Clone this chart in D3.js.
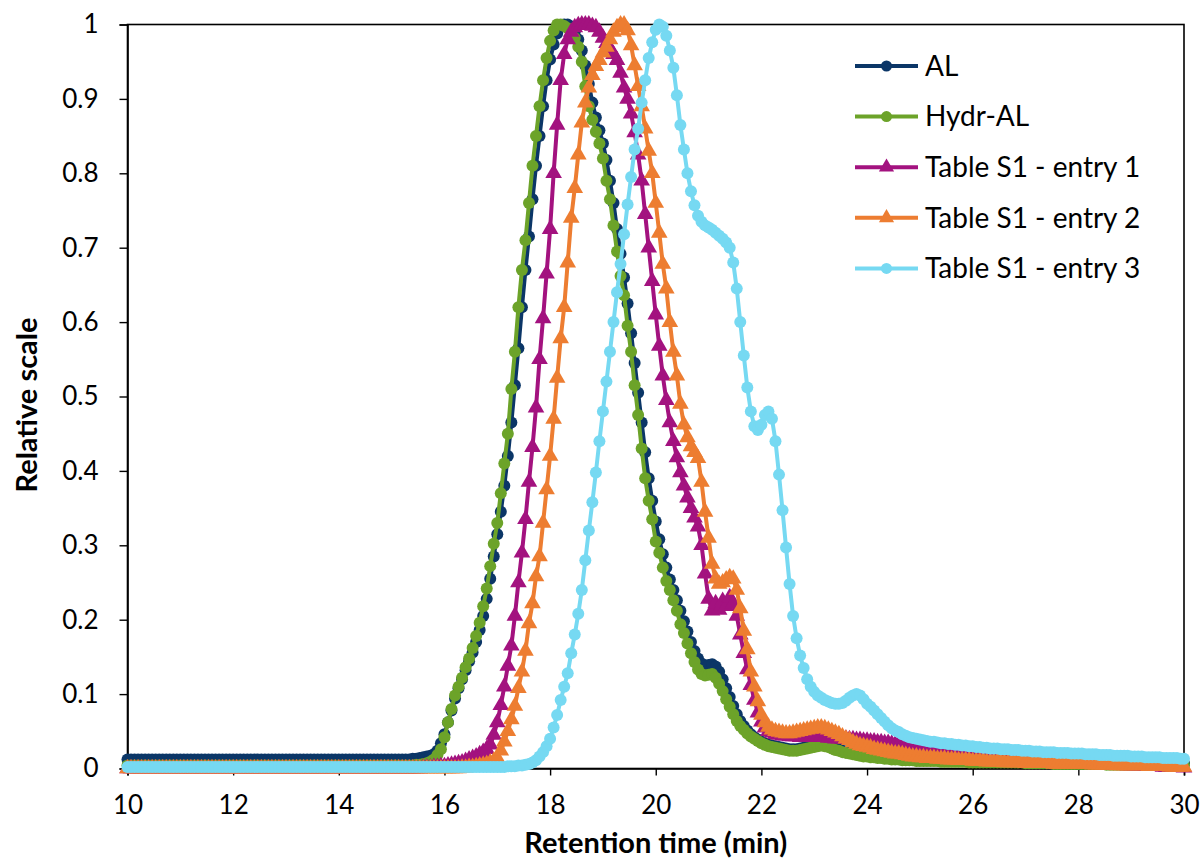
<!DOCTYPE html>
<html>
<head>
<meta charset="utf-8">
<script src="https://cdn.jsdelivr.net/npm/d3@7"></script>
<style>
  body { margin: 0; background: #fff; }
  svg { display: block; }
</style>
</head>
<body>
<svg id="chart" width="1204" height="861"></svg>
<script>
// GPC traces, normalised to the peak; one reading every 4 s from 10 to 30 min
const startTime = 10;
const sampleInterval = 1 / 15;

const AL = [
  0.012,0.012,0.012,0.012,0.012,0.012,0.012,0.012,0.012,0.012,0.012,0.012,0.012,0.012,0.012,
  0.012,0.012,0.012,0.012,0.012,0.012,0.012,0.012,0.012,0.012,0.012,0.012,0.012,0.012,0.012,
  0.012,0.012,0.012,0.012,0.012,0.012,0.012,0.012,0.012,0.012,0.012,0.012,0.012,0.012,0.012,
  0.012,0.012,0.012,0.012,0.012,0.012,0.012,0.012,0.012,0.012,0.012,0.012,0.012,0.012,0.012,
  0.012,0.012,0.012,0.012,0.012,0.012,0.012,0.012,0.012,0.012,0.012,0.012,0.012,0.012,0.012,
  0.012,0.012,0.012,0.012,0.012,0.012,0.013,0.013,0.014,0.015,0.016,0.017,0.019,0.024,0.034,
  0.046,0.062,0.078,0.094,0.108,0.120,0.132,0.144,0.156,0.170,0.186,0.205,0.228,0.255,0.285,
  0.315,0.345,0.380,0.420,0.465,0.515,0.565,0.620,0.670,0.715,0.765,0.810,0.850,0.890,0.925,
  0.953,0.973,0.988,0.997,1.000,1.000,0.997,0.990,0.980,0.965,0.945,0.920,0.895,0.875,0.858,
  0.840,0.818,0.790,0.760,0.725,0.692,0.660,0.625,0.585,0.545,0.505,0.465,0.425,0.390,0.360,
  0.332,0.308,0.288,0.270,0.254,0.240,0.226,0.212,0.198,0.184,0.170,0.158,0.148,0.141,0.138,
  0.139,0.140,0.137,0.130,0.120,0.108,0.096,0.084,0.073,0.064,0.057,0.051,0.046,0.042,0.039,
  0.036,0.034,0.032,0.031,0.030,0.029,0.028,0.027,0.026,0.026,0.026,0.027,0.028,0.029,0.030,
  0.031,0.032,0.033,0.032,0.031,0.029,0.027,0.026,0.024,0.023,0.022,0.021,0.020,0.019,0.018,
  0.018,0.017,0.017,0.016,0.016,0.015,0.015,0.014,0.014,0.014,0.013,0.013,0.013,0.013,0.012,
  0.012,0.012,0.012,0.012,0.012,0.012,0.011,0.011,0.011,0.011,0.011,0.011,0.011,0.011,0.011,
  0.011,0.011,0.011,0.011,0.011,0.010,0.010,0.010,0.010,0.010,0.010,0.010,0.010,0.010,0.010,
  0.010,0.010,0.010,0.010,0.010,0.009,0.009,0.009,0.009,0.009,0.009,0.009,0.009,0.009,0.009,
  0.009,0.009,0.009,0.009,0.009,0.008,0.008,0.008,0.008,0.008,0.008,0.008,0.008,0.008,0.008,
  0.008,0.008,0.008,0.008,0.008,0.008,0.008,0.008,0.007,0.007,0.007,0.007,0.007,0.007,0.007,
  0.007
];

const hydrAL = [
  0.004,0.004,0.004,0.004,0.004,0.004,0.004,0.004,0.004,0.004,0.004,0.004,0.004,0.004,0.004,
  0.004,0.004,0.004,0.004,0.004,0.004,0.004,0.004,0.004,0.004,0.004,0.004,0.004,0.004,0.004,
  0.004,0.004,0.004,0.004,0.004,0.004,0.004,0.004,0.004,0.004,0.004,0.004,0.004,0.004,0.004,
  0.004,0.004,0.004,0.004,0.004,0.004,0.004,0.004,0.004,0.004,0.004,0.004,0.004,0.004,0.004,
  0.004,0.004,0.004,0.004,0.004,0.004,0.004,0.004,0.004,0.004,0.004,0.004,0.004,0.004,0.004,
  0.004,0.004,0.004,0.004,0.004,0.004,0.004,0.005,0.005,0.006,0.007,0.009,0.012,0.018,0.026,
  0.042,0.062,0.080,0.098,0.110,0.122,0.136,0.148,0.162,0.178,0.196,0.218,0.242,0.272,0.302,
  0.330,0.370,0.410,0.450,0.510,0.560,0.620,0.670,0.710,0.760,0.810,0.850,0.890,0.925,0.955,
  0.978,0.992,1.000,1.000,0.998,0.995,0.990,0.982,0.970,0.950,0.917,0.890,0.872,0.856,0.840,
  0.820,0.790,0.765,0.730,0.695,0.662,0.636,0.595,0.560,0.515,0.475,0.430,0.390,0.360,0.335,
  0.305,0.290,0.270,0.252,0.240,0.226,0.212,0.194,0.182,0.168,0.155,0.143,0.133,0.127,0.125,
  0.126,0.127,0.122,0.114,0.104,0.093,0.083,0.073,0.064,0.057,0.052,0.047,0.043,0.040,0.037,
  0.034,0.032,0.030,0.029,0.028,0.027,0.026,0.025,0.024,0.024,0.024,0.025,0.026,0.027,0.028,
  0.029,0.030,0.031,0.030,0.029,0.027,0.025,0.024,0.022,0.021,0.020,0.019,0.018,0.017,0.016,
  0.016,0.015,0.015,0.014,0.014,0.013,0.013,0.012,0.012,0.012,0.011,0.011,0.011,0.011,0.010,
  0.010,0.010,0.010,0.010,0.010,0.010,0.009,0.009,0.009,0.009,0.009,0.009,0.009,0.009,0.008,
  0.008,0.008,0.008,0.008,0.008,0.008,0.008,0.008,0.008,0.008,0.008,0.008,0.008,0.008,0.008,
  0.007,0.007,0.007,0.007,0.007,0.007,0.007,0.007,0.006,0.006,0.006,0.006,0.006,0.006,0.006,
  0.006,0.006,0.006,0.006,0.006,0.006,0.006,0.006,0.005,0.005,0.005,0.005,0.005,0.005,0.005,
  0.005,0.005,0.005,0.005,0.005,0.005,0.005,0.005,0.004,0.004,0.004,0.004,0.004,0.004,0.004,
  0.004
];

const entry1 = [
  0.000,0.000,0.000,0.000,0.000,0.000,0.000,0.000,0.000,0.000,0.000,0.000,0.000,0.000,0.000,
  0.000,0.000,0.000,0.000,0.000,0.000,0.000,0.000,0.000,0.000,0.000,0.000,0.000,0.000,0.000,
  0.000,0.000,0.000,0.000,0.000,0.000,0.000,0.000,0.000,0.000,0.000,0.000,0.000,0.000,0.000,
  0.000,0.000,0.000,0.000,0.000,0.000,0.000,0.000,0.000,0.000,0.000,0.000,0.000,0.000,0.000,
  0.000,0.000,0.000,0.000,0.000,0.000,0.000,0.000,0.000,0.000,0.000,0.000,0.000,0.000,0.000,
  0.000,0.000,0.000,0.000,0.000,0.000,0.000,0.000,0.000,0.001,0.001,0.001,0.002,0.002,0.003,
  0.003,0.004,0.005,0.006,0.007,0.008,0.010,0.012,0.014,0.016,0.019,0.022,0.026,0.032,0.045,
  0.062,0.085,0.110,0.138,0.165,0.205,0.250,0.290,0.335,0.385,0.432,0.485,0.550,0.605,0.665,
  0.725,0.800,0.865,0.925,0.960,0.980,0.990,0.996,0.999,1.000,1.000,1.000,0.998,0.996,0.990,
  0.982,0.975,0.968,0.960,0.952,0.935,0.915,0.900,0.880,0.855,0.825,0.790,0.745,0.700,0.655,
  0.610,0.568,0.528,0.495,0.465,0.440,0.418,0.398,0.380,0.364,0.350,0.337,0.325,0.300,0.262,
  0.228,0.212,0.222,0.213,0.225,0.218,0.230,0.222,0.205,0.180,0.155,0.133,0.112,0.092,0.075,
  0.063,0.055,0.050,0.048,0.046,0.045,0.044,0.044,0.043,0.043,0.043,0.042,0.042,0.042,0.042,
  0.042,0.043,0.043,0.042,0.041,0.041,0.040,0.040,0.040,0.040,0.039,0.039,0.038,0.038,0.037,
  0.037,0.036,0.036,0.035,0.035,0.034,0.034,0.033,0.032,0.032,0.031,0.031,0.030,0.029,0.029,
  0.028,0.027,0.027,0.026,0.026,0.025,0.025,0.024,0.024,0.023,0.023,0.022,0.022,0.021,0.021,
  0.020,0.020,0.019,0.019,0.018,0.018,0.017,0.017,0.016,0.016,0.016,0.015,0.015,0.014,0.014,
  0.013,0.013,0.013,0.012,0.012,0.012,0.011,0.011,0.011,0.010,0.010,0.010,0.009,0.009,0.009,
  0.008,0.008,0.008,0.007,0.007,0.007,0.006,0.006,0.006,0.006,0.005,0.005,0.005,0.005,0.004,
  0.004,0.004,0.004,0.004,0.003,0.003,0.003,0.003,0.003,0.002,0.002,0.002,0.002,0.002,0.002,
  0.001
];

const entry2 = [
  0.000,0.000,0.000,0.000,0.000,0.000,0.000,0.000,0.000,0.000,0.000,0.000,0.000,0.000,0.000,
  0.000,0.000,0.000,0.000,0.000,0.000,0.000,0.000,0.000,0.000,0.000,0.000,0.000,0.000,0.000,
  0.000,0.000,0.000,0.000,0.000,0.000,0.000,0.000,0.000,0.000,0.000,0.000,0.000,0.000,0.000,
  0.000,0.000,0.000,0.000,0.000,0.000,0.000,0.000,0.000,0.000,0.000,0.000,0.000,0.000,0.000,
  0.000,0.000,0.000,0.000,0.000,0.000,0.000,0.000,0.000,0.000,0.000,0.000,0.000,0.000,0.000,
  0.000,0.000,0.000,0.000,0.000,0.000,0.000,0.000,0.000,0.000,0.000,0.000,0.000,0.000,0.000,
  0.000,0.000,0.000,0.000,0.000,0.001,0.001,0.002,0.002,0.003,0.004,0.005,0.006,0.008,0.010,
  0.014,0.024,0.036,0.050,0.066,0.084,0.108,0.130,0.158,0.195,0.222,0.258,0.285,0.330,0.375,
  0.420,0.470,0.525,0.578,0.620,0.680,0.740,0.780,0.825,0.868,0.895,0.915,0.932,0.944,0.952,
  0.962,0.970,0.980,0.990,0.996,1.000,1.000,0.992,0.972,0.945,0.917,0.890,0.860,0.830,0.800,
  0.760,0.720,0.678,0.645,0.600,0.560,0.528,0.490,0.462,0.445,0.433,0.425,0.417,0.385,0.345,
  0.310,0.275,0.255,0.248,0.250,0.254,0.257,0.255,0.240,0.215,0.185,0.160,0.130,0.110,0.090,
  0.072,0.062,0.056,0.052,0.050,0.049,0.048,0.047,0.047,0.048,0.049,0.050,0.051,0.052,0.053,
  0.054,0.055,0.055,0.054,0.052,0.050,0.048,0.046,0.043,0.040,0.038,0.035,0.033,0.031,0.030,
  0.029,0.028,0.026,0.025,0.024,0.023,0.022,0.021,0.020,0.020,0.019,0.018,0.017,0.016,0.016,
  0.015,0.015,0.014,0.014,0.014,0.013,0.013,0.013,0.012,0.012,0.012,0.011,0.011,0.011,0.011,
  0.010,0.010,0.010,0.010,0.009,0.009,0.009,0.009,0.009,0.008,0.008,0.008,0.008,0.008,0.008,
  0.007,0.007,0.007,0.007,0.007,0.007,0.007,0.007,0.006,0.006,0.006,0.006,0.006,0.006,0.006,
  0.006,0.006,0.006,0.006,0.005,0.005,0.005,0.005,0.005,0.005,0.005,0.004,0.004,0.004,0.004,
  0.004,0.004,0.004,0.004,0.004,0.003,0.003,0.003,0.003,0.003,0.003,0.002,0.002,0.002,0.002,
  0.002
];

const entry3 = [
  0.002,0.002,0.002,0.002,0.002,0.002,0.002,0.002,0.002,0.002,0.002,0.002,0.002,0.002,0.002,
  0.002,0.002,0.002,0.002,0.002,0.002,0.002,0.002,0.002,0.002,0.002,0.002,0.002,0.002,0.002,
  0.002,0.002,0.002,0.002,0.002,0.002,0.002,0.002,0.002,0.002,0.002,0.002,0.002,0.002,0.002,
  0.002,0.002,0.002,0.002,0.002,0.002,0.002,0.002,0.002,0.002,0.002,0.002,0.002,0.002,0.002,
  0.002,0.002,0.002,0.002,0.002,0.002,0.002,0.002,0.002,0.002,0.002,0.002,0.002,0.002,0.002,
  0.002,0.002,0.002,0.002,0.002,0.002,0.002,0.002,0.002,0.002,0.002,0.002,0.002,0.002,0.002,
  0.002,0.002,0.002,0.002,0.002,0.002,0.002,0.002,0.002,0.002,0.002,0.002,0.002,0.002,0.002,
  0.002,0.002,0.002,0.003,0.003,0.003,0.004,0.004,0.005,0.006,0.008,0.011,0.016,0.022,0.030,
  0.040,0.055,0.072,0.092,0.110,0.128,0.155,0.180,0.208,0.240,0.280,0.320,0.358,0.398,0.440,
  0.480,0.520,0.560,0.600,0.640,0.678,0.718,0.758,0.795,0.832,0.860,0.895,0.925,0.955,0.976,
  0.993,1.000,0.997,0.985,0.965,0.942,0.905,0.865,0.832,0.800,0.776,0.757,0.743,0.735,0.730,
  0.727,0.724,0.720,0.716,0.712,0.707,0.700,0.680,0.645,0.600,0.555,0.512,0.480,0.460,0.455,
  0.462,0.475,0.480,0.470,0.440,0.395,0.347,0.297,0.248,0.205,0.175,0.152,0.135,0.120,0.110,
  0.103,0.098,0.095,0.092,0.090,0.088,0.087,0.087,0.088,0.091,0.095,0.098,0.100,0.098,0.093,
  0.087,0.083,0.078,0.073,0.068,0.063,0.058,0.054,0.051,0.049,0.046,0.044,0.042,0.041,0.040,
  0.039,0.038,0.037,0.036,0.036,0.035,0.034,0.034,0.033,0.033,0.032,0.032,0.031,0.031,0.030,
  0.030,0.029,0.029,0.028,0.028,0.027,0.027,0.027,0.026,0.026,0.026,0.025,0.025,0.025,0.024,
  0.024,0.024,0.023,0.023,0.023,0.022,0.022,0.022,0.022,0.021,0.021,0.021,0.021,0.020,0.020,
  0.020,0.020,0.019,0.019,0.019,0.019,0.018,0.018,0.018,0.018,0.017,0.017,0.017,0.017,0.017,
  0.016,0.016,0.016,0.016,0.015,0.015,0.015,0.015,0.015,0.014,0.014,0.014,0.014,0.014,0.013,
  0.013
];

const seriesNames = ["AL", "Hydr-AL", "Table S1 - entry 1", "Table S1 - entry 2", "Table S1 - entry 3"];
const seriesValues = [AL, hydrAL, entry1, entry2, entry3];
const seriesColors = ["#0b3667", "#6ca329", "#a3127f", "#ed7d31", "#76d9f2"];
const seriesMarkers = ["circle", "circle", "triangle", "triangle", "circle"];

const xTickValues = [10, 12, 14, 16, 18, 20, 22, 24, 26, 28, 30];
const yTickValues = [0, 0.1, 0.2, 0.3, 0.4, 0.5, 0.6, 0.7, 0.8, 0.9, 1];
const yTickLabels = ["0", "0.1", "0.2", "0.3", "0.4", "0.5", "0.6", "0.7", "0.8", "0.9", "1"];

const xTitle = "Retention time (min)";
const yTitle = "Relative scale";

// ---- layout ----
const plot = { left: 127.5, right: 1184, top: 24.5, bottom: 768.5 };
const labelFont = "Lato, 'Open Sans', sans-serif";

const svg = d3.select("#chart");

const x = d3.scaleLinear().domain([10, 30]).range([plot.left, plot.right]);
const y = d3.scaleLinear().domain([0, 1]).range([plot.bottom, plot.top]);

// plot-area border (top and right edges)
svg.append("rect")
  .attr("x", plot.left).attr("y", plot.top)
  .attr("width", plot.right - plot.left).attr("height", plot.bottom - plot.top)
  .attr("fill", "none").attr("stroke", "#000").attr("stroke-width", 1.6);

// axes
const xAxis = svg.append("g")
  .attr("transform", `translate(0,${plot.bottom})`)
  .call(d3.axisBottom(x).tickValues(xTickValues).tickSize(7).tickPadding(20).tickFormat(d3.format("d")));
const yAxis = svg.append("g")
  .attr("transform", `translate(${plot.left},0)`)
  .call(d3.axisLeft(y).tickValues(yTickValues).tickSize(8).tickPadding(21)
    .tickFormat((d, i) => yTickLabels[i]));

[xAxis, yAxis].forEach(g => {
  g.select(".domain").attr("stroke", "#000").attr("stroke-width", 1.6);
  g.selectAll(".tick line").attr("stroke", "#000").attr("stroke-width", 1.4);
  g.selectAll(".tick text")
    .attr("fill", "#000")
    .style("font-family", labelFont)
    .style("font-size", "26px");
});

// axis titles
svg.append("text")
  .attr("x", (plot.left + plot.right) / 2).attr("y", 853)
  .attr("text-anchor", "middle")
  .style("font-family", labelFont).style("font-size", "29px").style("font-weight", 700)
  .text(xTitle);

svg.append("text")
  .attr("transform", "translate(37,405) rotate(-90)")
  .attr("text-anchor", "middle")
  .style("font-family", labelFont).style("font-size", "29px").style("font-weight", 700)
  .text(yTitle);

// ---- series ----
const times = AL.map((_, i) => startTime + i * sampleInterval);
const line = d3.line().x((d, i) => x(times[i])).y(d => y(d));
const circleMarker = d3.symbol().type(d3.symbolCircle).size(Math.PI * 6 * 6);
const triangleMarker = d3.symbol().type(d3.symbolTriangle).size(120);
const legendCircle = d3.symbol().type(d3.symbolCircle).size(Math.PI * 5.5 * 5.5);
const legendTriangle = d3.symbol().type(d3.symbolTriangle).size(100);

const seriesLayer = svg.append("g");
seriesValues.forEach((values, s) => {
  const g = seriesLayer.append("g");
  g.append("path")
    .datum(values)
    .attr("d", line)
    .attr("fill", "none")
    .attr("stroke", seriesColors[s])
    .attr("stroke-width", 4)
    .attr("stroke-linejoin", "round");
  const shape = seriesMarkers[s] === "circle" ? circleMarker : triangleMarker;
  g.selectAll("path.marker")
    .data(values)
    .join("path")
    .attr("class", "marker")
    .attr("d", shape)
    .attr("transform", (d, i) => `translate(${x(times[i])},${y(d)})`)
    .attr("fill", seriesColors[s]);
});

// ---- legend ----
const legend = svg.append("g").attr("transform", "translate(855,66)");
seriesNames.forEach((name, s) => {
  const row = legend.append("g").attr("transform", `translate(0,${s * 50.6})`);
  row.append("line")
    .attr("x1", 0).attr("x2", 63).attr("y1", 0).attr("y2", 0)
    .attr("stroke", seriesColors[s]).attr("stroke-width", 4);
  const shape = seriesMarkers[s] === "circle" ? legendCircle : legendTriangle;
  row.append("path")
    .attr("d", shape)
    .attr("transform", "translate(31.5,0)")
    .attr("fill", seriesColors[s]);
  row.append("text")
    .attr("x", 70).attr("y", 0)
    .attr("dy", "0.35em")
    .style("font-family", labelFont).style("font-size", "28px")
    .attr("fill", "#000")
    .text(name);
});
</script>
</body>
</html>
